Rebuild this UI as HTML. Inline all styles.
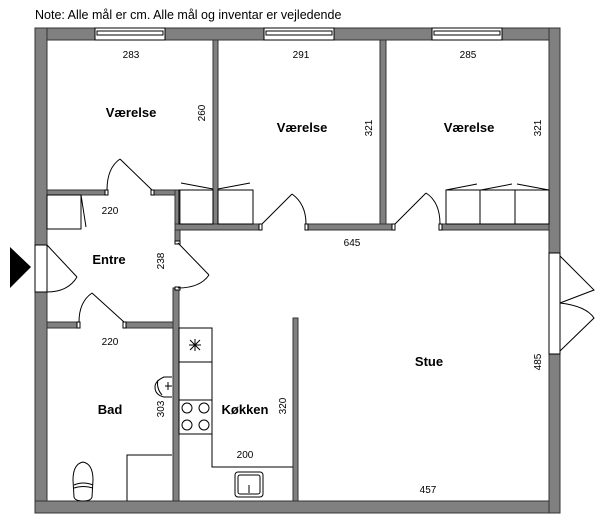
<!DOCTYPE html>
<html><head><meta charset="utf-8"><style>
html,body{margin:0;padding:0;background:#fff;}
svg{display:block;}
text{font-family:"Liberation Sans","DejaVu Sans",sans-serif;fill:#000;}
</style></head><body>
<svg width="600" height="527" viewBox="0 0 600 527" xmlns="http://www.w3.org/2000/svg">
<text x="35" y="19" font-size="12.5">Note: Alle mål er cm. Alle mål og inventar er vejledende</text>
<g fill="#808080" stroke="#333" stroke-width="1">
<rect x="35" y="28" width="525" height="12"/>
<rect x="35" y="28" width="12" height="217"/>
<rect x="35" y="292" width="12" height="221"/>
<rect x="35" y="501" width="525" height="12"/>
<rect x="549" y="28" width="11" height="225"/>
<rect x="549" y="354" width="11" height="159"/>
<rect x="213" y="40" width="5" height="190"/>
<rect x="380" y="40" width="6" height="190"/>
<rect x="47" y="190" width="60" height="5"/>
<rect x="152" y="190" width="26" height="5"/>
<rect x="175" y="190" width="5" height="52"/>
<rect x="175" y="224" width="85" height="6"/>
<rect x="307" y="224" width="88" height="6"/>
<rect x="440" y="224" width="109" height="6"/>
<rect x="47" y="322" width="31" height="6"/>
<rect x="124" y="322" width="51" height="6"/>
<rect x="173" y="288" width="6" height="213"/>
<rect x="293" y="318" width="5" height="183"/>
</g>
<g fill="#fff" stroke="#000" stroke-width="1">
<rect x="95" y="28" width="70" height="12"/>
<rect x="97" y="31" width="66" height="4"/>
<rect x="264" y="28" width="70" height="12"/>
<rect x="266" y="31" width="66" height="4"/>
<rect x="432" y="28" width="70" height="12"/>
<rect x="434" y="31" width="66" height="4"/>
<rect x="35" y="245" width="12" height="47"/>
<rect x="549" y="253" width="11" height="101"/>
<rect x="105" y="190" width="3" height="5"/>
<rect x="151" y="190" width="3" height="5"/>
<rect x="175" y="241" width="5" height="3"/>
<rect x="175" y="287" width="5" height="3"/>
<rect x="259" y="224" width="3" height="6"/>
<rect x="305" y="224" width="3" height="6"/>
<rect x="392" y="224" width="3" height="6"/>
<rect x="439" y="224" width="3" height="6"/>
<rect x="77" y="322" width="3" height="6"/>
<rect x="123" y="322" width="3" height="6"/>
</g>
<g fill="none" stroke="#000" stroke-width="1">
<path d="M152 190 L120 159 M107 190 Q107 168 120 159"/>
<path d="M262 224 L292 194 M292 194 Q306 204 306 224"/>
<path d="M395 224 L426 193 M440 224 Q440 202 426 193"/>
<path d="M47 245 L77 277 M47 292 Q68 292 77 277"/>
<path d="M178 243 L209 275 M178 288 Q200 288 209 275"/>
<path d="M124 322 L92 293 M79 322 Q79 302 92 293"/>
<path d="M560 256 L594 290 L560 303 M560 303 Q586 306 594 318 L560 351"/>
<rect x="47" y="195" width="34" height="34"/>
<line x1="81" y1="195" x2="86" y2="227"/>
<rect x="179" y="190" width="34" height="34"/>
<rect x="218" y="190" width="35" height="34"/>
<path d="M181 183 L213 189 M218 189 L250 183"/>
<rect x="446" y="190" width="103" height="34"/>
<line x1="480" y1="190" x2="480" y2="224"/><line x1="515" y1="190" x2="515" y2="224"/>
<path d="M446 190 L477 184 M481 190 L512 184 M517 184 L549 190"/>
<rect x="179" y="328" width="33" height="106"/>
<line x1="179" y1="362" x2="212" y2="362"/><line x1="179" y1="400" x2="212" y2="400"/>
<path d="M212 434 L212 467 L293 467"/>
<path d="M189 345 L201 345 M195 339 L195 351 M190 340 L200 350 M200 340 L190 350"/>
<circle cx="187" cy="408" r="5"/><circle cx="204" cy="408" r="5"/>
<circle cx="187" cy="425" r="5"/><circle cx="204" cy="425" r="5"/>
<rect x="235" y="472" width="28" height="25" rx="3"/>
<rect x="238" y="475" width="22" height="19" rx="2"/>
<line x1="249" y1="485" x2="249" y2="493"/>
<path d="M127 501 L127 455 L172 455"/>
<path d="M172 377 L164 377 Q155 381 155 387 Q155 395 164 397 L172 397"/>
<path d="M158 380 Q156 388 162 395 M168 382 L168 390 M165 386 L172 386"/>
<path d="M83 462 Q73 464 73 480 L74 497 Q75 501 83 501 Q91 501 92 497 L93 480 Q93 464 83 462 Z"/>
<path d="M74 485 Q83 481 93 485 M74 488 Q83 485 93 488"/>
</g>
<polygon points="10,247 31,267 10,288" fill="#000"/>
<g font-size="10" text-anchor="middle">
<text x="131" y="58">283</text>
<text x="301" y="58">291</text>
<text x="468" y="58">285</text>
<text x="110" y="214">220</text>
<text x="352" y="246">645</text>
<text x="110" y="345">220</text>
<text x="245" y="458">200</text>
<text x="428" y="493">457</text>
<text transform="translate(205,113) rotate(-90)">260</text>
<text transform="translate(372,128) rotate(-90)">321</text>
<text transform="translate(541,128) rotate(-90)">321</text>
<text transform="translate(164,261) rotate(-90)">238</text>
<text transform="translate(164,409) rotate(-90)">303</text>
<text transform="translate(286,406) rotate(-90)">320</text>
<text transform="translate(541,362) rotate(-90)">485</text>
</g>
<g font-size="13" font-weight="bold" text-anchor="middle">
<text x="131" y="117">Værelse</text>
<text x="302" y="132">Værelse</text>
<text x="469" y="132">Værelse</text>
<text x="109" y="264">Entre</text>
<text x="429" y="366">Stue</text>
<text x="110" y="414">Bad</text>
<text x="245" y="414">Køkken</text>
</g>
</svg>
</body></html>
